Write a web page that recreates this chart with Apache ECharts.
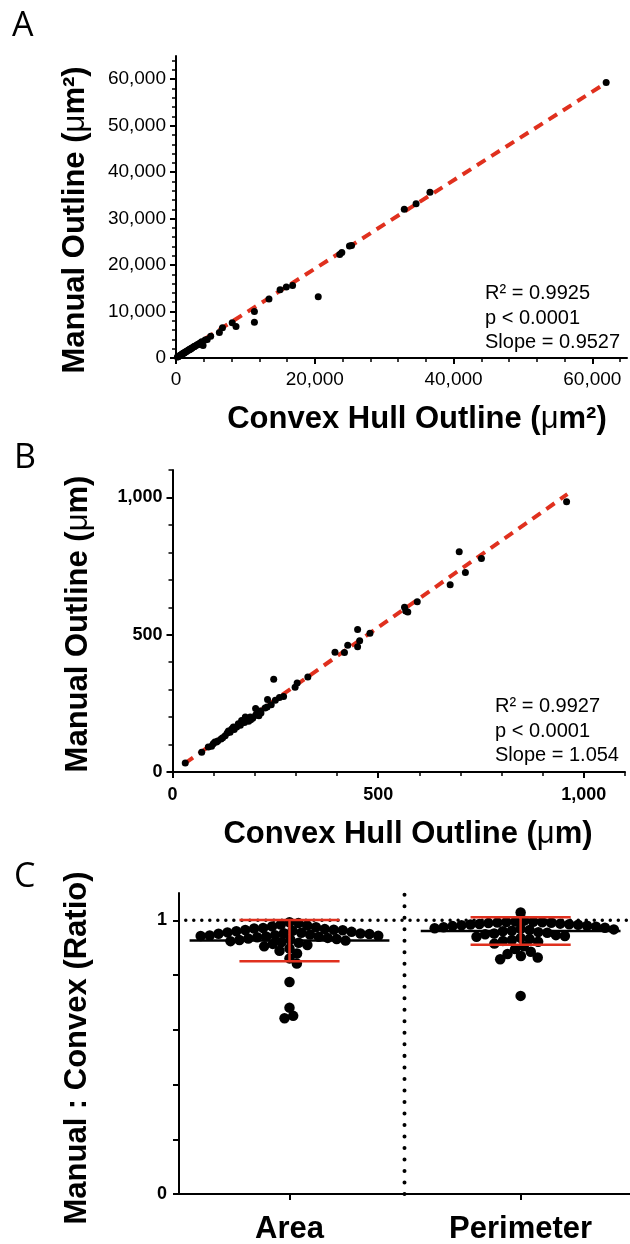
<!DOCTYPE html>
<html><head><meta charset="utf-8">
<script src="https://cdn.jsdelivr.net/npm/echarts@6/dist/echarts.min.js"></script>
<style>html,body{margin:0;padding:0;background:#fff}#c{width:630px;height:1244px}</style>
</head><body><div id="c"></div>
<script>
// ---------- Panel A: area ----------
const aConvex = [62000,36600,34600,32900,25300,25000,23900,23600,20500,16800,15900,15000,13400,11300,11300,8650,8100,6700,6250,5000,4500,3900,3700,
  4200,3400,3100,2900,2700,2500,2300,2100,1900,1700,1500,1300,1100,900,700,500,300,2600,2200,1800,1400,1000,600,3600,3300,2000,1200,800,400,200];
const aManual = [59300,35700,33200,32000,24200,24100,22700,22300,13200,15600,15300,14700,12700,10000,7700,6760,7600,6500,5500,4700,4000,2700,3500,
  3900,3200,2900,2700,2550,2350,2150,2000,1800,1600,1400,1250,1050,850,650,480,290,2400,2050,1700,1350,950,560,3300,2900,1850,1100,760,380,190];
const aFitX = [0, 61200];
const aSlope = 0.9527, aIntercept = 150;
const aStats = ['R² = 0.9925', 'p < 0.0001', 'Slope = 0.9527'];
const aXTicks = [0, 20000, 40000, 60000];
const aXMinor = [4000,8000,12000,16000,24000,28000,32000,36000,44000,48000,52000,56000,64000];
const aYTicks = [0, 10000, 20000, 30000, 40000, 50000, 60000];
const aYMinor = [2000,4000,6000,8000,12000,14000,16000,18000,22000,24000,26000,28000,32000,34000,36000,38000,42000,44000,46000,48000,52000,54000,56000,58000,62000,64000];

// ---------- Panel B: perimeter ----------
const bConvex = [958,697,751,712,675,595,564,567,572,480,455,450,450,426,418,395,329,303,298,246,231,230,260,250,270,202,202,213,189,177,180,168,160,156,148,144,136,133,122,107,103,99,95,87,71,31,215,195,185,175,165,150,140,128,118,110,205,225,240,210,190];
const bManual = [984,802,778,727,682,620,600,586,583,505,478,519,456,462,435,436,346,324,309,338,264,237,271,261,275,231,207,222,200,200,194,188,176,164,164,157,149,142,125,109,109,103,94,91,72,33,215,196,185,180,170,155,145,132,120,113,212,233,245,205,190];
const bFitX = [30, 960];
const bSlope = 1.054, bIntercept = 0;
const bStats = ['R² = 0.9927', 'p < 0.0001', 'Slope = 1.054'];
const bTicks = [0, 500, 1000];
const bMinor = [100,200,300,400,600,700,800,900,1100];

// ---------- Panel C: ratios ----------
const cCategories = ['Area', 'Perimeter'];
const cPositions = [0.49, 1.515];
const cArea = [0.993,0.99,0.985,0.981,0.978,0.975,0.972,0.97,0.968,0.966,0.965,0.964,0.962,0.96,0.958,0.956,0.955,0.953,0.952,0.951,
  0.95,0.948,0.946,0.945,0.944,0.943,0.941,0.94,0.938,0.936,0.934,0.932,0.93,0.928,0.926,0.924,0.921,0.918,0.914,0.91,
  0.905,0.897,0.889,0.879,0.861,0.842,0.775,0.681,0.651,0.642];
const cPerimeter = [1.029,0.999,0.996,0.995,0.994,0.993,0.992,0.991,0.99,0.988,0.987,0.986,0.985,0.984,0.982,0.98,0.979,
  0.977,0.975,0.973,0.971,0.969,0.967,0.965,0.962,0.96,0.957,0.955,0.952,0.949,0.946,0.943,0.94,0.936,0.932,0.928,0.925,
  0.922,0.915,0.905,0.895,0.885,0.877,0.87,0.864,0.858,0.724];
const cMean = [0.926, 0.961];
const cSD = [0.075, 0.05];
const cYTicks = [0, 0.2, 0.4, 0.6, 0.8, 1.0];
const cYLabels = [0, 1];

// ---------- drawing ----------
const F = '"Liberation Sans", Arial, sans-serif';
const K = '#000';
const RED = '#e0301e';
const fmtComma = v => Math.round(v).toLocaleString('en-US');

function axis(gridIndex, pos, min, max, ticks, labels, opts) {
  opts = opts || {};
  return {
    gridIndex, type: 'value', position: pos, min, max,
    axisLine: { show: !opts.minor, onZero: false, lineStyle: { color: K, width: 2 } },
    splitLine: { show: false },
    axisTick: { show: true, customValues: ticks, length: opts.minor ? 4 : 6, lineStyle: { color: K, width: opts.minor ? 1.5 : 2 } },
    axisLabel: labels ? { show: true, customValues: labels, formatter: opts.fmt || fmtComma, color: K, fontFamily: F,
      fontSize: opts.fs || 19, fontWeight: opts.bold ? 'bold' : 'normal', margin: opts.margin || 10 } : { show: false }
  };
}

const chart = echarts.init(document.getElementById('c'), null, { renderer: 'canvas' });

const titleRich = fs => ({ t: { fontFamily: F, fontWeight: 'bold', fontSize: fs, fill: K }, u: { fontFamily: F, fontWeight: 'normal', fontSize: fs, fill: K } });
function title(text, x, y, rot) {
  return { type: 'text', x, y, rotation: rot ? Math.PI / 2 : 0, z: 10,
    style: { text, rich: titleRich(31), align: 'center', verticalAlign: 'middle', fill: K } };
}
function letter(t, x, y) {
  return { type: 'text', x, y, z: 10, style: { text: t, fontFamily: '"Open Sans", sans-serif', fontSize: 34, fill: K, align: 'left', verticalAlign: 'middle' } };
}
function stats(lines, x, y) {
  return { type: 'text', x, y, z: 10, style: { text: lines.join('\n'), fontFamily: F, fontSize: 20, lineHeight: 24.5, fill: K, align: 'left', verticalAlign: 'middle' } };
}
const dot = { color: K, opacity: 1 };

const series = [
  { type: 'line', xAxisIndex: 0, yAxisIndex: 0, data: aFitX.map(x => [x, aSlope * x + aIntercept]), symbol: 'none', silent: true,
    lineStyle: { color: RED, width: 4, type: [10, 7] }, z: 2 },
  { type: 'scatter', xAxisIndex: 0, yAxisIndex: 0, data: aConvex.map((x, i) => [x, aManual[i]]), symbolSize: 7, itemStyle: dot, z: 3 },
  { type: 'line', xAxisIndex: 2, yAxisIndex: 2, data: bFitX.map(x => [x, bSlope * x + bIntercept]), symbol: 'none', silent: true,
    lineStyle: { color: RED, width: 4, type: [10, 7] }, z: 2 },
  { type: 'scatter', xAxisIndex: 2, yAxisIndex: 2, data: bConvex.map((x, i) => [x, bManual[i]]), symbolSize: 7, itemStyle: dot, z: 3 },
  // dotted reference lines
  { type: 'line', xAxisIndex: 4, yAxisIndex: 4, data: [[0.03, 1], [2, 1]], symbol: 'none', silent: true,
    lineStyle: { color: K, width: 3.5, type: [0.01, 8], cap: 'round' }, z: 1 },
  { type: 'line', xAxisIndex: 4, yAxisIndex: 4, data: [[1, 0], [1, 1.1]], symbol: 'none', silent: true,
    lineStyle: { color: K, width: 4, type: [0.01, 11.5], cap: 'round' }, z: 1 },
  { id: 'cA', type: 'scatter', xAxisIndex: 4, yAxisIndex: 4, data: [], symbolSize: 10.5, itemStyle: dot, z: 3 },
  { id: 'cP', type: 'scatter', xAxisIndex: 4, yAxisIndex: 4, data: [], symbolSize: 10.5, itemStyle: dot, z: 3 }
];
cPositions.forEach((c, i) => {
  const m = cMean[i], s = cSD[i];
  series.push({ type: 'line', xAxisIndex: 4, yAxisIndex: 4, data: [[c - 0.443, m], [c + 0.443, m]], symbol: 'none', silent: true,
    lineStyle: { color: K, width: 2.5 }, z: 4 });
  [[[c - 0.222, m + s], [c + 0.222, m + s]], [[c - 0.222, m - s], [c + 0.222, m - s]], [[c, m - s], [c, m + s]]].forEach(d => {
    series.push({ type: 'line', xAxisIndex: 4, yAxisIndex: 4, data: d, symbol: 'none', silent: true, lineStyle: { color: RED, width: 2.5 }, z: 4 });
  });
});

const option = {
  animation: false,
  backgroundColor: '#fff',
  grid: [
    { left: 176, top: 56, width: 451, height: 302, outerBoundsMode: 'none' },
    { left: 172.5, top: 470, width: 452.5, height: 302, outerBoundsMode: 'none' },
    { left: 179, top: 893, width: 451, height: 301, outerBoundsMode: 'none' }
  ],
  xAxis: [
    axis(0, 'bottom', 0, 65000, aXTicks, aXTicks, { margin: 12 }),
    axis(0, 'bottom', 0, 65000, aXMinor, null, { minor: true }),
    axis(1, 'bottom', 0, 1100, bTicks, bTicks, { bold: true, fs: 18, margin: 14 }),
    axis(1, 'bottom', 0, 1100, bMinor, null, { minor: true }),
    axis(2, 'bottom', 0, 2, cPositions, cPositions, { fmt: v => cCategories[cPositions.indexOf(v)], bold: true, fs: 31, margin: 20 })
  ],
  yAxis: [
    axis(0, 'left', 0, 65000, aYTicks, aYTicks, { margin: 10 }),
    axis(0, 'left', 0, 65000, aYMinor, null, { minor: true }),
    axis(1, 'left', 0, 1100, bTicks, bTicks, { bold: true, fs: 18, margin: 10 }),
    axis(1, 'left', 0, 1100, bMinor, null, { minor: true }),
    axis(2, 'left', 0, 1.1, cYTicks, cYLabels, { fmt: v => String(v), bold: true, fs: 18, margin: 12 })
  ],
  graphic: [
    letter('A', 12, 26), letter('B', 14, 458), letter('C', 14, 877),
    title('{t|Manual Outline (}{u|μ}{t|m²)}', 75, 220, true),
    title('{t|Convex Hull Outline (}{u|μ}{t|m²)}', 417, 419, false),
    title('{t|Manual Outline (}{u|μ}{t|m)}', 78, 624, true),
    title('{t|Convex Hull Outline (}{u|μ}{t|m)}', 408, 834, false),
    title('{t|Manual : Convex (Ratio)}', 77, 1048, true),
    stats(aStats, 485, 318),
    stats(bStats, 495, 731)
  ],
  series
};
chart.setOption(option);

// beeswarm layout computed in pixel space through the chart's own scales
function swarm(vals, cx, D) {
  const f = { xAxisIndex: 4, yAxisIndex: 4 };
  const cpx = chart.convertToPixel(f, [cx, 0])[0];
  const pts = vals.slice().sort((a, b) => b - a).map(v => ({ v, py: chart.convertToPixel(f, [cx, v])[1], dx: 0 }));
  const placed = [];
  for (const p of pts) {
    const cands = [0];
    for (const q of placed) {
      const dy = p.py - q.py;
      if (Math.abs(dy) < D) { const dx = Math.sqrt(D * D - dy * dy); cands.push(q.dx + dx, q.dx - dx); }
    }
    cands.sort((a, b) => Math.abs(a) - Math.abs(b));
    for (const c of cands) {
      if (placed.every(q => (q.dx - c) ** 2 + (q.py - p.py) ** 2 >= D * D - 0.01)) { p.dx = c; break; }
    }
    placed.push(p);
  }
  return placed.map(p => [chart.convertFromPixel(f, [cpx + p.dx, p.py])[0], p.v]);
}
chart.setOption({ series: [{ id: 'cA', data: swarm(cArea, cPositions[0], 9) }, { id: 'cP', data: swarm(cPerimeter, cPositions[1], 9) }] });
</script></body></html>
